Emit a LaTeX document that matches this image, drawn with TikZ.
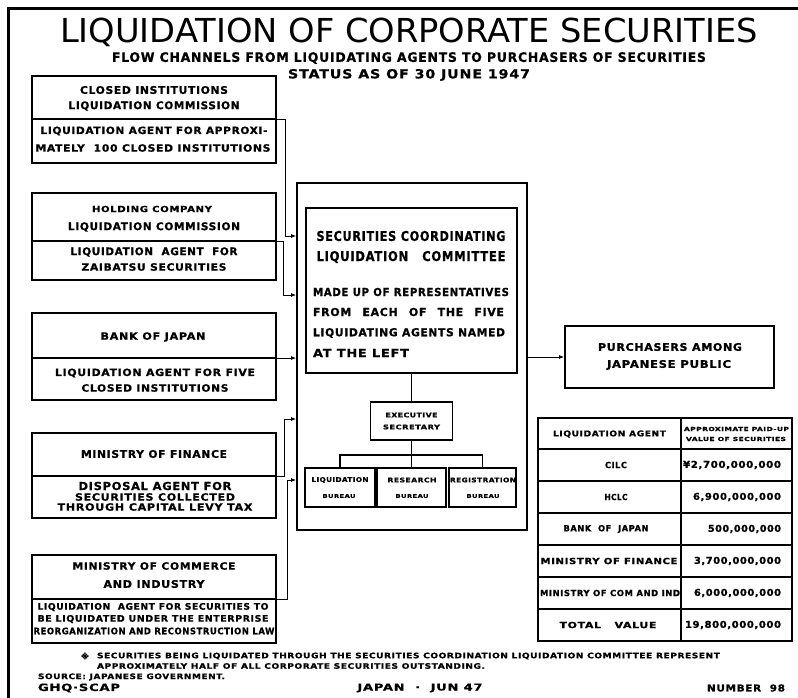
\documentclass[tikz,border=0pt]{standalone}
\usepackage{fontspec}
\usepackage{graphicx}
\usetikzlibrary{arrows.meta}
\setmainfont{DejaVu Sans}
\newfontfamily\lettering{DejaVu Sans}[LetterSpace=6, BoldFeatures={FakeBold=0.8}]
\newfontfamily\titlefont{DejaVu Sans}

% \hfit{width}{text}: set text and stretch it horizontally to the given width
\ExplSyntaxOn
\box_new:N \l_fit_box
\fp_new:N \l_fit_fp
\NewDocumentCommand \hfit { m m }
  {
    \hbox_set:Nn \l_fit_box { #2 }
    \fp_set:Nn \l_fit_fp
      { \dim_to_fp:n { #1 } / \dim_to_fp:n { \box_wd:N \l_fit_box } }
    \scalebox { \fp_use:N \l_fit_fp } [1] { \box_use:N \l_fit_box }
  }
\ExplSyntaxOff

\newcommand\Lf[1]{\lettering\bfseries\fontsize{#1}{#1}\selectfont}

\tikzset{
  frame/.style={line width=2.5pt, line cap=rect},
  agent/.style={draw, line width=1.8pt, minimum width=244pt, inner sep=0pt},
  heavybox/.style={draw, line width=1.8pt, inner sep=0pt},
  smallbox/.style={draw, line width=1.4pt, inner sep=0pt},
  lbl/.style={inner sep=0pt, outer sep=0pt},
  divider/.style={line width=1.1pt},
  conn/.style={line width=0.9pt},
  arr/.style={conn, -{Latex[length=5pt,width=4pt]}},
  tree/.style={line width=1.1pt},
  grid/.style={line width=1.1pt},
}

\begin{document}
\begin{tikzpicture}[x=1pt,y=-1pt]
\useasboundingbox[fill=white] (0,0) rectangle (798,698);

% outer frame (left and top edges)
\draw[frame] (8.5,698) -- (8.5,8.5) -- (798,8.5);

% headings
\node[lbl] (title) at (409,32)
  {\titlefont\fontsize{33}{33}\selectfont\hfit{698pt}{LIQUIDATION OF CORPORATE SECURITIES}};
\node[lbl] (subtitle) at (409,58)
  {\Lf{13}\hfit{594pt}{FLOW CHANNELS FROM LIQUIDATING AGENTS TO PURCHASERS OF SECURITIES}};
\node[lbl] (status) at (409,75)
  {\Lf{12.5}\hfit{242pt}{STATUS AS OF 30 JUNE 1947}};

% ---------------- liquidating agents ----------------
\node[agent, minimum height=87pt] (cilc) at (154,119.5) {};
\node[agent, minimum height=87pt] (hclc) at (154,236.5) {};
\node[agent, minimum height=87pt] (boj)  at (154,356.5) {};
\node[agent, minimum height=85pt] (mof)  at (154,475.5) {};
\node[agent, minimum height=88pt] (mci)  at (154,599)   {};

\coordinate (cilc-d) at (276,119);
\coordinate (hclc-d) at (276,241);
\coordinate (boj-d)  at (276,358);
\coordinate (mof-d)  at (276,476);
\coordinate (mci-d)  at (276,599);
\foreach \b in {cilc,hclc,boj,mof,mci}
  \draw[divider] (\b.west |- \b-d) -- (\b-d);

\node[lbl] (cilc-1) at (154,90)  {\Lf{10.5}\hfit{148pt}{CLOSED INSTITUTIONS}};
\node[lbl] (cilc-2) at (154,106) {\Lf{10.5}\hfit{171pt}{LIQUIDATION COMMISSION}};
\node[lbl] (cilc-3) at (154,131) {\Lf{10}\hfit{227pt}{LIQUIDATION AGENT FOR APPROXI-}};
\node[lbl] (cilc-4) at (153,148) {\Lf{10}\hfit{235pt}{MATELY\ \ 100 CLOSED INSTITUTIONS}};

\node[lbl] (hclc-1) at (152,209) {\Lf{8.5}\hfit{120pt}{HOLDING COMPANY}};
\node[lbl] (hclc-2) at (154,227) {\Lf{10.5}\hfit{172pt}{LIQUIDATION COMMISSION}};
\node[lbl] (hclc-3) at (154,252) {\Lf{10.5}\hfit{167pt}{LIQUIDATION\ \ AGENT\ \ FOR}};
\node[lbl] (hclc-4) at (154,267) {\Lf{10}\hfit{145pt}{ZAIBATSU SECURITIES}};

\node[lbl] (boj-1) at (153,337) {\Lf{10}\hfit{105pt}{BANK OF JAPAN}};
\node[lbl] (boj-2) at (155,373) {\Lf{10}\hfit{200pt}{LIQUIDATION AGENT FOR FIVE}};
\node[lbl] (boj-3) at (155,388) {\Lf{10}\hfit{147pt}{CLOSED INSTITUTIONS}};

\node[lbl] (mof-1) at (154,454) {\Lf{10.5}\hfit{146pt}{MINISTRY OF FINANCE}};
\node[lbl] (mof-2) at (155,486) {\Lf{11}\hfit{153pt}{DISPOSAL AGENT FOR}};
\node[lbl] (mof-3) at (155,497) {\Lf{10}\hfit{160pt}{SECURITIES COLLECTED}};
\node[lbl] (mof-4) at (155,507) {\Lf{10}\hfit{195pt}{THROUGH CAPITAL LEVY TAX}};

\node[lbl] (mci-1) at (154,566) {\Lf{10}\hfit{163pt}{MINISTRY OF COMMERCE}};
\node[lbl] (mci-2) at (154,584) {\Lf{10.5}\hfit{101pt}{AND INDUSTRY}};
\node[lbl] (mci-3) at (153,607) {\Lf{9}\hfit{231pt}{LIQUIDATION\ \ AGENT FOR SECURITIES TO}};
\node[lbl] (mci-4) at (153,619) {\Lf{9}\hfit{231pt}{BE LIQUIDATED UNDER THE ENTERPRISE}};
\node[lbl] (mci-5) at (154,631) {\Lf{9}\hfit{241pt}{REORGANIZATION AND RECONSTRUCTION LAW}};

% ---------------- coordinating committee ----------------
\node[heavybox, minimum width=230pt, minimum height=347pt] (comm) at (412,356.5) {};
\node[heavybox, line width=1.6pt, minimum width=211pt, minimum height=165pt] (scl) at (411.5,290.5) {};

\node[lbl] (scl-1) at (411,236) {\Lf{13.5}\hfit{189pt}{SECURITIES COORDINATING}};
\node[lbl] (scl-2) at (411,257) {\Lf{13.5}\hfit{189pt}{LIQUIDATION\hskip 1.2em COMMITTEE}};
\node[lbl, anchor=west] (scl-3) at (313,292) {\Lf{11}\hfit{196pt}{MADE UP OF REPRESENTATIVES}};
\node[lbl, anchor=west] (scl-4) at (313,312) {\Lf{11}\makebox[191pt][s]{FROM EACH OF THE FIVE}};
\node[lbl, anchor=west] (scl-5) at (313,333) {\Lf{11}\hfit{192pt}{LIQUIDATING AGENTS NAMED}};
\node[lbl, anchor=west] (scl-6) at (313,353) {\Lf{11}\hfit{96pt}{AT THE LEFT}};

\node[smallbox, minimum width=82pt, minimum height=38pt] (exec) at (411.5,421) {};
\node[lbl] (exec-1) at (411.5,415) {\Lf{6.5}\hfit{52pt}{EXECUTIVE}};
\node[lbl] (exec-2) at (411.5,427) {\Lf{6.5}\hfit{57pt}{SECRETARY}};

\node[smallbox, minimum width=70pt, minimum height=39pt] (lb) at (340,487.5)   {};
\node[smallbox, minimum width=69pt, minimum height=39pt] (rb) at (411.5,487.5) {};
\node[smallbox, minimum width=67pt, minimum height=39pt] (gb) at (482.5,487.5) {};
\node[lbl] (lb-1) at (340,480)   {\Lf{6.5}\hfit{57pt}{LIQUIDATION}};
\node[lbl] (lb-2) at (339,496)   {\Lf{5}\hfit{33pt}{BUREAU}};
\node[lbl] (rb-1) at (412,480)   {\Lf{6.5}\hfit{49pt}{RESEARCH}};
\node[lbl] (rb-2) at (412,496)   {\Lf{5}\hfit{33pt}{BUREAU}};
\node[lbl] (gb-1) at (483,480)   {\Lf{6.5}\hfit{66pt}{REGISTRATION}};
\node[lbl] (gb-2) at (483,496)   {\Lf{5}\hfit{33pt}{BUREAU}};

\coordinate (br) at (411.5,455);
\draw[tree] (scl.south) -- (exec.north);
\draw[tree] (exec.south) -- (rb.north);
\draw[tree] (lb.north) |- (br) -| (gb.north);

% channels from the agents into the committee
\coordinate (in-cilc) at (297,236);
\coordinate (in-hclc) at (297,295);
\coordinate (in-mof)  at (297,419);
\coordinate (in-mci)  at (297,480);
\draw[arr] (cilc-d) -- ++(9,0) |- (comm.west |- in-cilc);
\draw[arr] (hclc-d) -- ++(7,0) |- (comm.west |- in-hclc);
\draw[arr] (boj-d) -- (comm.west |- boj-d);
\draw[arr] (mof-d) -- ++(8,0) |- (comm.west |- in-mof);
\draw[arr] (mci-d) -- ++(11,0) |- (comm.west |- in-mci);

% ---------------- purchasers ----------------
\node[heavybox, minimum width=209pt, minimum height=62pt] (pur) at (669.5,357) {};
\node[lbl] (pur-1) at (670,347) {\Lf{10.5}\hfit{144pt}{PURCHASERS AMONG}};
\node[lbl] (pur-2) at (669,365) {\Lf{10.5}\hfit{124pt}{JAPANESE PUBLIC}};
\draw[arr] (comm.east |- pur.west) -- (pur.west);

% ---------------- value table ----------------
\node[heavybox, minimum width=254pt, minimum height=223pt] (tbl) at (665,529.5) {};
\coordinate (colx) at (681,0);
\draw[grid] (tbl.north -| colx) -- (tbl.south -| colx);
\foreach \r in {449,481,513,545,577,609}
  \draw[grid] (tbl.west |- 0,\r) -- (tbl.east |- 0,\r);

\node[lbl] (th-1) at (609.5,434) {\Lf{8}\hfit{113pt}{LIQUIDATION AGENT}};
\node[lbl] (th-2) at (736.5,429) {\Lf{5.5}\hfit{105pt}{APPROXIMATE PAID-UP}};
\node[lbl] (th-3) at (736,439)   {\Lf{5.5}\hfit{100pt}{VALUE OF SECURITIES}};

\node[lbl] (ta-1) at (616,465) {\Lf{8.5}\hfit{22pt}{CILC}};
\node[lbl] (ta-2) at (616,497) {\Lf{8.5}\hfit{23pt}{HCLC}};
\node[lbl] (ta-3) at (606,529) {\Lf{8.5}\hfit{85pt}{BANK\ \ OF\ \ JAPAN}};
\node[lbl] (ta-4) at (609,561) {\Lf{8.5}\hfit{137pt}{MINISTRY OF FINANCE}};
\node[lbl] (ta-5) at (610,593) {\Lf{8.5}\hfit{140pt}{MINISTRY OF COM AND IND}};
\node[lbl] (ta-6) at (608,625) {\Lf{8.5}\hfit{97pt}{TOTAL\ \ \ VALUE}};

\node[lbl, anchor=east] (tv-1) at (781,465) {\Lf{9.5}\hfit{98pt}{¥2,700,000,000}};
\node[lbl, anchor=east] (tv-2) at (781,497) {\Lf{9.5}\hfit{88pt}{6,900,000,000}};
\node[lbl, anchor=east] (tv-3) at (781,529) {\Lf{9.5}\hfit{73pt}{500,000,000}};
\node[lbl, anchor=east] (tv-4) at (781,561) {\Lf{9.5}\hfit{87pt}{3,700,000,000}};
\node[lbl, anchor=east] (tv-5) at (781,593) {\Lf{9.5}\hfit{87pt}{6,000,000,000}};
\node[lbl, anchor=east] (tv-6) at (781,625) {\Lf{9.5}\hfit{96pt}{19,800,000,000}};

% ---------------- notes ----------------
\node[lbl] (fn-mark) at (85,656) {\Lf{8}※};
\node[lbl, anchor=west] (fn-1) at (97,656)
  {\Lf{7.5}\hfit{623pt}{SECURITIES BEING LIQUIDATED THROUGH THE SECURITIES COORDINATION LIQUIDATION COMMITTEE REPRESENT}};
\node[lbl, anchor=west] (fn-2) at (97,666)
  {\Lf{7.5}\hfit{388pt}{APPROXIMATELY HALF OF ALL CORPORATE SECURITIES OUTSTANDING.}};
\node[lbl, anchor=west] (src) at (38,677)
  {\Lf{7.5}\hfit{187pt}{SOURCE: JAPANESE GOVERNMENT.}};
\node[lbl, anchor=west] (ghq) at (38,688) {\Lf{10}\hfit{82pt}{GHQ·SCAP}};
\node[lbl] (place) at (420,688) {\Lf{9.5}\hfit{125pt}{JAPAN\ \ ·\ \ JUN 47}};
\node[lbl, anchor=east] (num) at (785,688) {\Lf{9.5}\hfit{78pt}{NUMBER\ \ 98}};
\end{tikzpicture}
\end{document}
